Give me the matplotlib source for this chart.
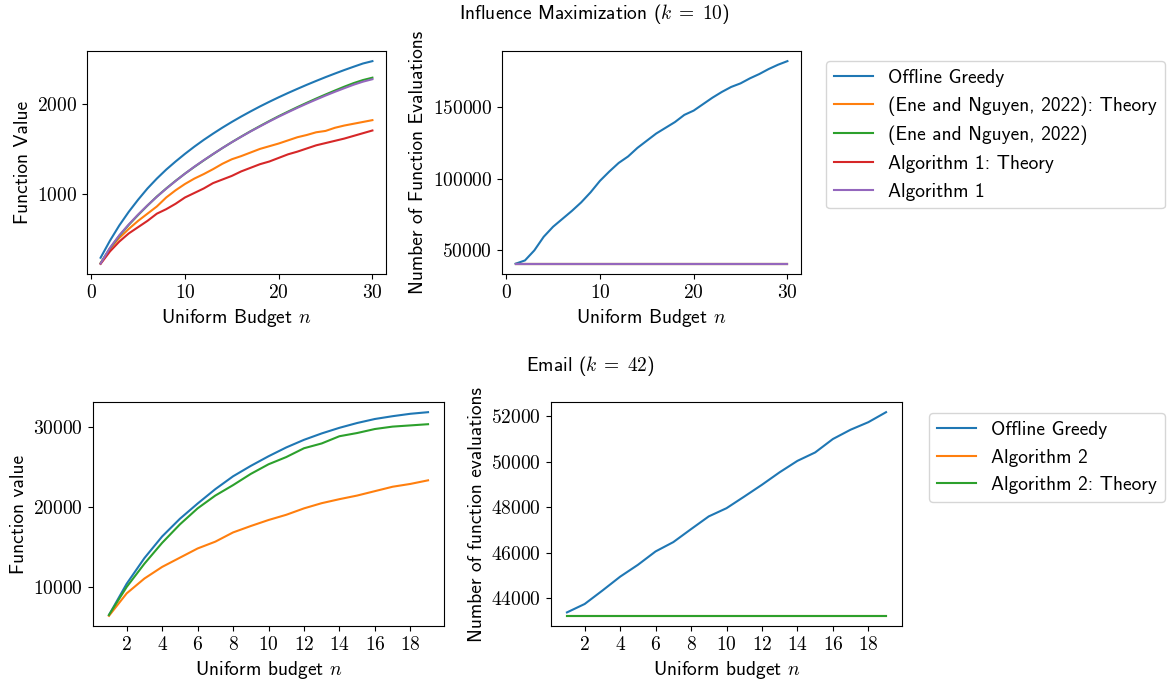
import numpy as np
import matplotlib
matplotlib.use('Agg')
import matplotlib.pyplot as plt
from matplotlib.ticker import FuncFormatter

plt.rcParams['font.family'] = ['cmss10', 'DejaVu Sans']
plt.rcParams['mathtext.fontset'] = 'cm'
plt.rcParams['font.size'] = 14
plt.rcParams['axes.unicode_minus'] = False

# ---- Influence Maximization (k = 10) ----
n_im = list(range(1, 31))
im_greedy_val = [290, 480, 650, 800, 935, 1060, 1170, 1270, 1360, 1445,
                 1525, 1600, 1670, 1737, 1800, 1860, 1917, 1972, 2024, 2074,
                 2122, 2168, 2213, 2256, 2298, 2338, 2377, 2414, 2450, 2476]
im_ene_theory_val = [230, 390, 510, 610, 700, 780, 860, 960, 1040, 1110,
                     1170, 1220, 1275, 1335, 1385, 1420, 1460, 1500, 1530, 1560,
                     1595, 1630, 1655, 1685, 1700, 1735, 1760, 1780, 1800, 1820]
im_ene_val = [228, 395, 535, 655, 765, 870, 970, 1060, 1145, 1225,
              1300, 1372, 1442, 1510, 1575, 1637, 1697, 1754, 1810, 1864,
              1915, 1965, 2013, 2060, 2105, 2149, 2192, 2232, 2266, 2292]
im_alg1_theory_val = [222, 360, 470, 560, 630, 700, 780, 830, 890, 960,
                      1010, 1060, 1120, 1160, 1200, 1250, 1290, 1330, 1360, 1400,
                      1440, 1470, 1505, 1540, 1565, 1590, 1615, 1645, 1675, 1705]
im_alg1_val = [226, 400, 540, 660, 770, 872, 968, 1058, 1143, 1225,
               1302, 1374, 1443, 1510, 1574, 1635, 1694, 1750, 1805, 1858,
               1908, 1957, 2004, 2049, 2093, 2135, 2175, 2214, 2248, 2275]

im_greedy_eval = [40700, 43000, 50000, 59500, 66500, 72000, 77500, 83500, 90500, 98500,
                  105000, 111000, 115500, 121500, 126500, 131500, 135500, 139500, 144500, 147500,
                  152000, 156500, 160500, 164000, 166500, 170000, 173000, 176500, 179500, 182000]
im_other_eval = [40600] * 30

# ---- Email (k = 42) ----
n_em = list(range(1, 20))
em_greedy_val = [6500, 10400, 13600, 16300, 18500, 20400, 22200, 23800, 25100, 26300,
                 27400, 28350, 29150, 29850, 30450, 30950, 31300, 31600, 31800]
em_alg2_val = [6400, 9200, 11050, 12500, 13650, 14800, 15650, 16800, 17600, 18350,
               19000, 19800, 20450, 20950, 21400, 21950, 22500, 22850, 23300]
em_alg2_theory_val = [6500, 10000, 12900, 15500, 17800, 19800, 21400, 22700, 24100, 25300,
                      26200, 27300, 27900, 28800, 29200, 29700, 30000, 30150, 30300]

em_greedy_eval = [43380, 43750, 44340, 44950, 45470, 46060, 46470, 47040, 47600, 47960,
                  48470, 48990, 49540, 50040, 50410, 51000, 51410, 51740, 52180]
em_other_eval = [43230] * 19

im_labels = ['Offline Greedy', '(Ene and Nguyen, 2022): Theory', '(Ene and Nguyen, 2022)',
             'Algorithm 1: Theory', 'Algorithm 1']
em_labels = ['Offline Greedy', 'Algorithm 2', 'Algorithm 2: Theory']

W, H = 1167, 683
fig = plt.figure(figsize=(W / 100, H / 100), dpi=100)


def box(l, r, t, b):
    return [l / W, 1 - b / H, (r - l) / W, (b - t) / H]


fmt = FuncFormatter(lambda v, p: r'$%d$' % int(round(v)))

ax1 = fig.add_axes(box(87, 386, 51, 274))
ax2 = fig.add_axes(box(502, 801, 51, 274))
ax3 = fig.add_axes(box(93, 444, 402, 626))
ax4 = fig.add_axes(box(551, 902, 402, 626))

for vals in [im_greedy_val, im_ene_theory_val, im_ene_val, im_alg1_theory_val, im_alg1_val]:
    ax1.plot(n_im, vals)
ax2.plot(n_im, im_greedy_eval)
for i in range(4):
    ax2.plot(n_im, im_other_eval)
ax1.set_yticks([1000, 2000])
ax1.set_xticks([0, 10, 20, 30])
ax2.set_yticks([50000, 100000, 150000])
ax2.set_xticks([0, 10, 20, 30])
ax1.set_ylabel('Function Value')
ax2.set_ylabel('Number of Function Evaluations')
for ax in (ax1, ax2):
    ax.set_xlabel(r'Uniform Budget $n$')

ax3.plot(n_em, em_greedy_val)
ax3.plot(n_em, em_alg2_val)
ax3.plot(n_em, em_alg2_theory_val)
ax4.plot(n_em, em_greedy_eval)
ax4.plot(n_em, em_other_eval)
ax4.plot(n_em, em_other_eval)
ax3.set_yticks([10000, 20000, 30000])
ax4.set_yticks([44000, 46000, 48000, 50000, 52000])
for ax in (ax3, ax4):
    ax.set_xticks(range(2, 20, 2))
    ax.set_xlabel(r'Uniform budget $n$')
ax3.set_ylabel('Function value')
ax4.set_ylabel('Number of function evaluations')

for ax in (ax1, ax2, ax3, ax4):
    ax.xaxis.set_major_formatter(fmt)
    ax.yaxis.set_major_formatter(fmt)

fig.legend(ax1.get_lines(), im_labels, loc='upper left',
           bbox_to_anchor=(826 / W, 1 - 61 / H), borderaxespad=0)
fig.legend(ax3.get_lines(), em_labels, loc='upper left',
           bbox_to_anchor=(929 / W, 1 - 413 / H), borderaxespad=0)

fig.text(594 / W, 1 - 14 / H, r'Influence Maximization ($k\;=\;10$)', ha='center', va='center')
fig.text(590 / W, 1 - 366 / H, r'Email ($k\;=\;42$)', ha='center', va='center')

fig.savefig('out.png', dpi=100)
